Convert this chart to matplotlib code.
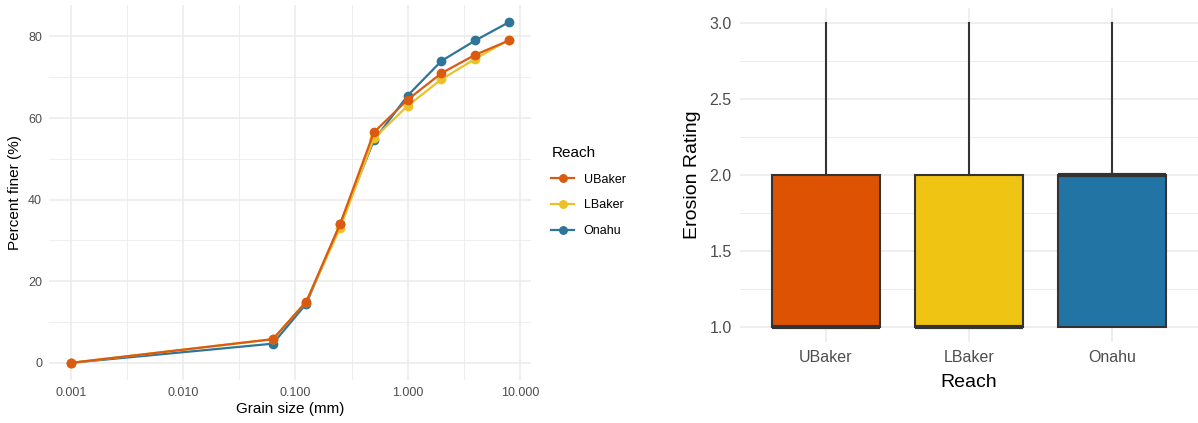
import numpy as np
import matplotlib
matplotlib.use('Agg')
import matplotlib.pyplot as plt
from matplotlib.ticker import FixedLocator, FuncFormatter

plt.rcParams['font.family'] = ['Liberation Sans', 'DejaVu Sans']

## data
grain_size = [0.001, 0.063, 0.125, 0.25, 0.5, 1.0, 2.0, 4.0, 8.0]
ubaker = [0, 5.8, 15.0, 34.0, 56.5, 64.5, 71.0, 75.5, 79.0]
lbaker = [0, 5.8, 15.0, 33.0, 55.0, 63.0, 69.5, 74.5, 79.2]
onahu = [0, 4.7, 14.5, 34.0, 54.5, 65.5, 74.0, 79.0, 83.5]

reaches = ['UBaker', 'LBaker', 'Onahu']
colors = ['#DB5A12', '#EDC125', '#2E7599']
fills = ['#DE5303', '#F0C413', '#2274A5']

# erosion rating summaries (per reach)
rate_q1 = [1.0, 1.0, 1.0]
rate_med = [1.0, 1.0, 2.0]
rate_q3 = [2.0, 2.0, 2.0]
rate_lo = [1.0, 1.0, 1.0]
rate_hi = [3.0, 3.0, 3.0]

grid_c = '#EBEBEB'
tick_c = '#4D4D4D'

fig = plt.figure(figsize=(11.98, 4.23), dpi=100)

## left panel: grain size curves
ax1 = fig.add_axes([0.0409, 0.1017, 0.4023, 0.8865])
series = {'UBaker': ubaker, 'LBaker': lbaker, 'Onahu': onahu}
handles = {}
for name in ['Onahu', 'LBaker', 'UBaker']:
    c = colors[reaches.index(name)]
    h, = ax1.plot(grain_size, series[name], color=c, lw=1.6, marker='o', ms=6, zorder=3)
    handles[name] = h
ax1.set_xscale('log')
ax1.set_xlim(10 ** -3.195, 10 ** 1.098)
ax1.set_ylim(-4.2, 87.7)
ax1.xaxis.set_major_locator(FixedLocator([0.001, 0.01, 0.1, 1, 10]))
ax1.xaxis.set_minor_locator(FixedLocator([10 ** -2.5, 10 ** -1.5, 10 ** -0.5, 10 ** 0.5]))
ax1.xaxis.set_major_formatter(FuncFormatter(lambda v, p: '%.3f' % v))
ax1.xaxis.set_minor_formatter(FuncFormatter(lambda v, p: ''))
ax1.yaxis.set_major_locator(FixedLocator([0, 20, 40, 60, 80]))
ax1.yaxis.set_minor_locator(FixedLocator([10, 30, 50, 70]))
ax1.grid(True, which='major', color=grid_c, lw=1.1)
ax1.grid(True, which='minor', color=grid_c, lw=0.6)
ax1.set_xlabel('Grain size (mm)', fontsize=11, labelpad=2)
ax1.set_ylabel('Percent finer (%)', fontsize=11, labelpad=4)
ax1.tick_params(which='both', length=0, labelsize=9, labelcolor=tick_c, pad=5)
for s in ax1.spines.values():
    s.set_visible(False)
ax1.set_axisbelow(True)

leg = fig.legend([handles[n] for n in reaches], reaches, title='Reach',
                 loc='upper left', bbox_to_anchor=(0.455, 0.67), frameon=False,
                 fontsize=9, title_fontsize=11, handlelength=1.8,
                 labelspacing=1.1, borderpad=0, markerscale=0.9)
leg._legend_box.align = 'left'

## right panel: erosion rating boxplot
ax2 = fig.add_axes([0.6177, 0.1915, 0.3823, 0.790])
stats = []
for i in range(3):
    stats.append({'q1': rate_q1[i], 'med': rate_med[i], 'q3': rate_q3[i],
                  'whislo': rate_lo[i], 'whishi': rate_hi[i], 'fliers': [],
                  'label': reaches[i]})
bp = ax2.bxp(stats, positions=[1, 2, 3], widths=0.75, patch_artist=True,
             showcaps=False,
             boxprops=dict(edgecolor='#333333', lw=1.5),
             whiskerprops=dict(color='#333333', lw=1.5),
             medianprops=dict(color='#333333', lw=3))
for patch, f in zip(bp['boxes'], fills):
    patch.set_facecolor(f)
ax2.set_xlim(0.4, 3.6)
ax2.set_ylim(0.9, 3.1)
ax2.yaxis.set_major_locator(FixedLocator([1.0, 1.5, 2.0, 2.5, 3.0]))
ax2.yaxis.set_minor_locator(FixedLocator([1.25, 1.75, 2.25, 2.75]))
ax2.yaxis.set_major_formatter(FuncFormatter(lambda v, p: '%.1f' % v))
ax2.set_xticks([1, 2, 3])
ax2.set_xticklabels(reaches)
ax2.grid(True, which='major', color=grid_c, lw=1.2)
ax2.grid(True, which='minor', axis='y', color=grid_c, lw=0.7)
ax2.set_axisbelow(True)
ax2.set_xlabel('Reach', fontsize=14, labelpad=6)
ax2.set_ylabel('Erosion Rating', fontsize=14, labelpad=6)
ax2.tick_params(which='both', length=0, labelsize=11.5, labelcolor=tick_c, pad=6)
for s in ax2.spines.values():
    s.set_visible(False)

fig.savefig('out.png', dpi=100)
